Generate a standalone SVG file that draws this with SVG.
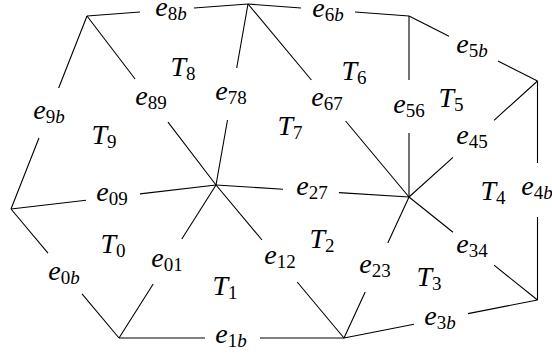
<svg xmlns="http://www.w3.org/2000/svg" width="552" height="356" viewBox="0 0 552 356">
<style>
.edge{stroke:#000;stroke-width:1.1;fill:none;stroke-linecap:butt}
.lbl{font-family:'Liberation Serif','DejaVu Serif',serif;font-style:italic;font-size:28px;fill:#000;text-anchor:middle}
.sub{font-size:19px;font-style:normal}
.it{font-style:italic}
</style>
<rect width="552" height="356" fill="#fff"/>
<g id="connectors">
<path class="edge" d="M87,16 L140,12.05 M194,8.02 L248,4"/>
<path class="edge" d="M248,4 L301,7.95 M355,11.98 L409,16"/>
<path class="edge" d="M409,16 L449,36.2 M498,61 L537.5,81"/>
<path class="edge" d="M537.5,81 L537.5,163 M537.5,217 L537.5,300"/>
<path class="edge" d="M537.5,300 L468,313.65 M414,324.25 L344,338"/>
<path class="edge" d="M344,338 L260,338 M205,338 L119,338"/>
<path class="edge" d="M119,338 L82,293.8 M48,253.2 L11,209"/>
<path class="edge" d="M11,209 L38.96,138 M58.65,88 L87,16"/>
<path class="edge" d="M87,16 L135.1,79 M168,122.1 L216,185"/>
<path class="edge" d="M248,4 L236.7,68 M227.5,120 L216,185"/>
<path class="edge" d="M248,4 L311.4,80 M345.6,121 L409,197"/>
<path class="edge" d="M409,16 L409,80 M409,133 L409,197"/>
<path class="edge" d="M537.5,81 L494,120.3 M453,157.3 L409,197"/>
<path class="edge" d="M409,197 L453,232.3 M494,265.1 L537.5,300"/>
<path class="edge" d="M409,197 L387.8,243 M365.2,292 L344,338"/>
<path class="edge" d="M216,185 L262,240 M297.2,282 L344,338"/>
<path class="edge" d="M216,185 L181.8,239 M153.2,284 L119,338"/>
<path class="edge" d="M11,209 L86,200.2 M140,193.9 L216,185"/>
<path class="edge" d="M216,185 L283,189.2 M339,192.6 L409,197"/>
</g>
<g id="e8b"><text class="lbl" x="171" y="16">e<tspan class="sub" dy="4">8<tspan class="it">b</tspan></tspan></text></g>
<g id="e6b"><text class="lbl" x="328" y="17">e<tspan class="sub" dy="4">6<tspan class="it">b</tspan></tspan></text></g>
<g id="e5b"><text class="lbl" x="472" y="53">e<tspan class="sub" dy="4">5<tspan class="it">b</tspan></tspan></text></g>
<g id="e4b"><text class="lbl" x="537" y="195">e<tspan class="sub" dy="4">4<tspan class="it">b</tspan></tspan></text></g>
<g id="e3b"><text class="lbl" x="440" y="325">e<tspan class="sub" dy="4">3<tspan class="it">b</tspan></tspan></text></g>
<g id="e1b"><text class="lbl" x="231" y="343">e<tspan class="sub" dy="4">1<tspan class="it">b</tspan></tspan></text></g>
<g id="e0b"><text class="lbl" x="64" y="280">e<tspan class="sub" dy="4">0<tspan class="it">b</tspan></tspan></text></g>
<g id="e9b"><text class="lbl" x="49" y="119">e<tspan class="sub" dy="4">9<tspan class="it">b</tspan></tspan></text></g>
<g id="e89"><text class="lbl" x="151" y="105">e<tspan class="sub" dy="4">89</tspan></text></g>
<g id="e78"><text class="lbl" x="231" y="100">e<tspan class="sub" dy="4">78</tspan></text></g>
<g id="e67"><text class="lbl" x="327" y="106">e<tspan class="sub" dy="4">67</tspan></text></g>
<g id="e56"><text class="lbl" x="409" y="113">e<tspan class="sub" dy="4">56</tspan></text></g>
<g id="e45"><text class="lbl" x="472" y="144">e<tspan class="sub" dy="4">45</tspan></text></g>
<g id="e34"><text class="lbl" x="472" y="253">e<tspan class="sub" dy="4">34</tspan></text></g>
<g id="e23"><text class="lbl" x="375" y="273">e<tspan class="sub" dy="4">23</tspan></text></g>
<g id="e12"><text class="lbl" x="280" y="264">e<tspan class="sub" dy="4">12</tspan></text></g>
<g id="e01"><text class="lbl" x="167" y="267">e<tspan class="sub" dy="4">01</tspan></text></g>
<g id="e09"><text class="lbl" x="112" y="201">e<tspan class="sub" dy="4">09</tspan></text></g>
<g id="e27"><text class="lbl" x="312" y="195">e<tspan class="sub" dy="4">27</tspan></text></g>
<g id="T8"><text class="lbl" x="183" y="76">T<tspan class="sub" dy="4">8</tspan></text></g>
<g id="T9"><text class="lbl" x="104" y="144">T<tspan class="sub" dy="4">9</tspan></text></g>
<g id="T7"><text class="lbl" x="290" y="135">T<tspan class="sub" dy="4">7</tspan></text></g>
<g id="T6"><text class="lbl" x="354" y="80">T<tspan class="sub" dy="4">6</tspan></text></g>
<g id="T5"><text class="lbl" x="451" y="107">T<tspan class="sub" dy="4">5</tspan></text></g>
<g id="T4"><text class="lbl" x="493" y="200">T<tspan class="sub" dy="4">4</tspan></text></g>
<g id="T3"><text class="lbl" x="429" y="286">T<tspan class="sub" dy="4">3</tspan></text></g>
<g id="T2"><text class="lbl" x="322" y="248">T<tspan class="sub" dy="4">2</tspan></text></g>
<g id="T1"><text class="lbl" x="225" y="295">T<tspan class="sub" dy="4">1</tspan></text></g>
<g id="T0"><text class="lbl" x="113" y="253">T<tspan class="sub" dy="4">0</tspan></text></g>
</svg>
